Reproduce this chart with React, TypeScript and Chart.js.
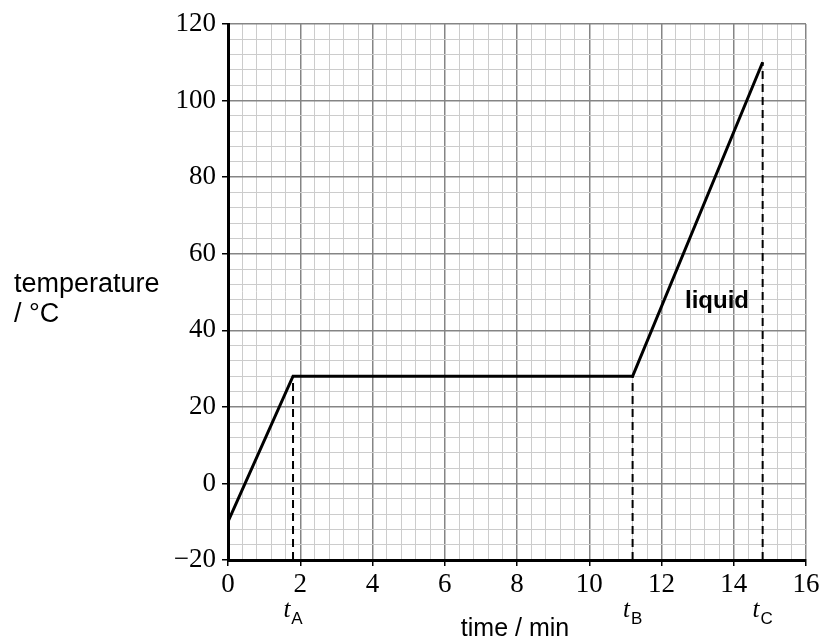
import { useEffect, useRef } from "react";
import { Chart, registerables } from "chart.js";
Chart.register(...registerables);

// ---- data ----
const heatingTime = [0, 1.8, 11.2, 14.8];
const heatingTemp = [-10, 28, 28, 110];
const markerTimes = [1.8, 11.2, 14.8];
const markerTemps = [28, 28, 110];
const markerSubs = ["A", "B", "C"];
const xTickLabels = [0, 2, 4, 6, 8, 10, 12, 14, 16];
const yTickLabels = [-20, 0, 20, 40, 60, 80, 100, 120];
const xTitle = "time / min";
const yTitleLines = ["temperature", "/ °C"];
const regionLabel = "liquid";
const regionLabelAt = { x: 12.65, y: 45.8 };

const SERIF = '"Liberation Serif", "Times New Roman", serif';
const SANS = '"Liberation Sans", Arial, sans-serif';

const isIn = (arr: number[], v: number) => arr.some((a) => Math.abs(a - v) < 1e-6);

const textPlugin = {
  id: "textPlugin",
  afterDraw(chart: any) {
    const ctx = chart.ctx as CanvasRenderingContext2D;
    const xs = chart.scales.x;
    const ys = chart.scales.y;
    ctx.save();
    ctx.fillStyle = "#000";
    ctx.textBaseline = "alphabetic";
    // y title
    ctx.textAlign = "left";
    ctx.font = `27px ${SANS}`;
    ctx.fillText(yTitleLines[0], 14, 292);
    ctx.fillText(yTitleLines[1], 14, 322);
    // x title
    ctx.font = `25px ${SANS}`;
    ctx.textAlign = "center";
    ctx.fillText(xTitle, 515, 636);
    // region label
    ctx.textAlign = "left";
    ctx.font = `bold 24px ${SANS}`;
    ctx.fillText(regionLabel, xs.getPixelForValue(regionLabelAt.x), ys.getPixelForValue(regionLabelAt.y));
    // t markers
    markerTimes.forEach((t, i) => {
      const px = xs.getPixelForValue(t);
      ctx.font = `italic 25px ${SERIF}`;
      const tw = ctx.measureText("t").width;
      ctx.font = `17px ${SANS}`;
      const sw = ctx.measureText(markerSubs[i]).width;
      const total = tw + 1 + sw;
      const left = px - total / 2;
      ctx.textAlign = "left";
      ctx.font = `italic 25px ${SERIF}`;
      ctx.fillText("t", left, 617);
      ctx.font = `17px ${SANS}`;
      ctx.fillText(markerSubs[i], left + tw + 1, 624);
    });
    ctx.restore();
  },
};

export default function App() {
  const ref = useRef<HTMLCanvasElement | null>(null);
  useEffect(() => {
    if (!ref.current) return;
    const dashed = markerTimes.map((t, i) => ({
      data: [
        { x: t, y: -20 },
        { x: t, y: markerTemps[i] },
      ],
      showLine: true,
      borderColor: "#000",
      borderWidth: 2,
      borderDash: [8, 5],
      pointRadius: 0,
    }));
    const chart = new Chart(ref.current, {
      type: "scatter",
      data: {
        datasets: [
          {
            data: heatingTime.map((x, i) => ({ x, y: heatingTemp[i] })),
            showLine: true,
            borderColor: "#000",
            borderWidth: 3,
            pointRadius: 0,
            tension: 0,
          },
          ...dashed,
        ],
      },
      options: {
        animation: false,
        responsive: false,
        devicePixelRatio: 1,
        layout: { padding: { left: 0, top: 24, right: 19, bottom: 0 } },
        plugins: { legend: { display: false }, tooltip: { enabled: false } },
        scales: {
          x: {
            type: "linear",
            min: 0,
            max: 16,
            afterFit: (s: any) => {
              s.height = 82;
            },
            ticks: {
              stepSize: 0.4,
              autoSkip: false,
              maxRotation: 0,
              padding: 3,
              color: "#000",
              font: { family: SERIF, size: 27 },
              callback: (v: any) => (isIn(xTickLabels, Number(v)) ? String(Math.round(Number(v))) : ""),
            },
            grid: {
              color: (c: any) => (isIn(xTickLabels, c.tick?.value) ? "#858585" : "#cccccc"),
              lineWidth: (c: any) => (isIn(xTickLabels, c.tick?.value) ? 1.5 : 1),
              tickColor: (c: any) => (isIn(xTickLabels, c.tick?.value) ? "#000" : "rgba(0,0,0,0)"),
              tickLength: 6,
              tickWidth: 1.5,
            },
            border: { display: true, color: "#000", width: 3 },
          },
          y: {
            type: "linear",
            min: -20,
            max: 120,
            afterFit: (s: any) => {
              s.width = 228;
            },
            ticks: {
              stepSize: 4,
              autoSkip: false,
              padding: 6,
              color: "#000",
              font: { family: SERIF, size: 27 },
              callback: (v: any) => {
                const n = Number(v);
                if (!isIn(yTickLabels, n)) return "";
                const r = Math.round(n);
                return r < 0 ? "\u2212" + Math.abs(r) : String(r);
              },
            },
            grid: {
              color: (c: any) => (isIn(yTickLabels, c.tick?.value) ? "#858585" : "#cccccc"),
              lineWidth: (c: any) => (isIn(yTickLabels, c.tick?.value) ? 1.5 : 1),
              tickColor: (c: any) => (isIn(yTickLabels, c.tick?.value) ? "#000" : "rgba(0,0,0,0)"),
              tickLength: 6,
              tickWidth: 1.5,
            },
            border: { display: true, color: "#000", width: 3 },
          },
        },
      },
      plugins: [textPlugin],
    });
    return () => chart.destroy();
  }, []);
  return (
    <div style={{ position: "fixed", left: 0, top: 0, width: 825, height: 642, background: "#fff" }}>
      <canvas ref={ref} width={825} height={642} style={{ display: "block" }} />
    </div>
  );
}
